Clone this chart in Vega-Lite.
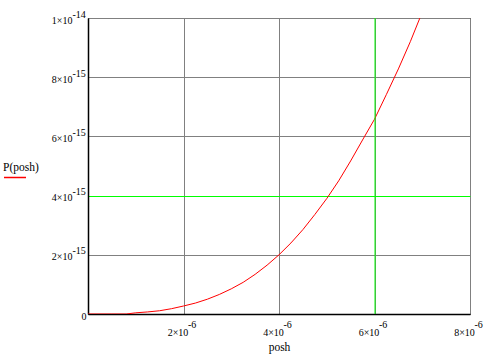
{
  "$schema": "https://vega.github.io/schema/vega-lite/v6.json",
  "width": 382,
  "height": 296,
  "autosize": {"type": "none"},
  "padding": {"left": 88, "top": 18, "right": 33, "bottom": 48},
  "background": "white",
  "config": {
    "view": {"stroke": "black", "strokeWidth": 1},
    "font": "Liberation Serif",
    "axis": {
      "labelFont": "Liberation Serif",
      "titleFont": "Liberation Serif",
      "labelColor": "black",
      "titleColor": "black",
      "labelFontSize": 10,
      "titleFontSize": 11.5,
      "titleFontWeight": "normal",
      "domainColor": "black",
      "domainWidth": 1.5,
      "ticks": false,
      "gridOpacity": 1,
      "gridWidth": 1,
      "labelBaseline": "alphabetic"
    }
  },
  "resolve": {"axis": {"x": "independent", "y": "independent"}},
  "datasets": {
    "curve": [
      {"posh": 0, "P": 0, "series": "P(posh)"},
      {"posh": 0.5e-6, "P": 0, "series": "P(posh)"},
      {"posh": 0.8e-6, "P": 0, "series": "P(posh)"},
      {"posh": 1.0e-6, "P": 0.04e-15, "series": "P(posh)"},
      {"posh": 1.25e-6, "P": 0.07e-15, "series": "P(posh)"},
      {"posh": 1.5e-6, "P": 0.11e-15, "series": "P(posh)"},
      {"posh": 1.75e-6, "P": 0.18e-15, "series": "P(posh)"},
      {"posh": 2.0e-6, "P": 0.27e-15, "series": "P(posh)"},
      {"posh": 2.25e-6, "P": 0.37e-15, "series": "P(posh)"},
      {"posh": 2.5e-6, "P": 0.50e-15, "series": "P(posh)"},
      {"posh": 2.75e-6, "P": 0.66e-15, "series": "P(posh)"},
      {"posh": 3.0e-6, "P": 0.85e-15, "series": "P(posh)"},
      {"posh": 3.25e-6, "P": 1.07e-15, "series": "P(posh)"},
      {"posh": 3.5e-6, "P": 1.34e-15, "series": "P(posh)"},
      {"posh": 3.75e-6, "P": 1.65e-15, "series": "P(posh)"},
      {"posh": 4.0e-6, "P": 2.00e-15, "series": "P(posh)"},
      {"posh": 4.25e-6, "P": 2.40e-15, "series": "P(posh)"},
      {"posh": 4.5e-6, "P": 2.85e-15, "series": "P(posh)"},
      {"posh": 4.75e-6, "P": 3.36e-15, "series": "P(posh)"},
      {"posh": 5.0e-6, "P": 3.90e-15, "series": "P(posh)"},
      {"posh": 5.25e-6, "P": 4.50e-15, "series": "P(posh)"},
      {"posh": 5.5e-6, "P": 5.17e-15, "series": "P(posh)"},
      {"posh": 5.75e-6, "P": 5.88e-15, "series": "P(posh)"},
      {"posh": 6.0e-6, "P": 6.58e-15, "series": "P(posh)"},
      {"posh": 6.25e-6, "P": 7.42e-15, "series": "P(posh)"},
      {"posh": 6.5e-6, "P": 8.28e-15, "series": "P(posh)"},
      {"posh": 6.75e-6, "P": 9.20e-15, "series": "P(posh)"},
      {"posh": 7.0e-6, "P": 10.2e-15, "series": "P(posh)"}
    ],
    "xmarker": [{"posh": 6e-6}]
  },
  "data": {"name": "curve"},
  "layer": [
    {
      "mark": {"type": "line", "strokeWidth": 1, "clip": true},
      "encoding": {
        "x": {
          "field": "posh",
          "type": "quantitative",
          "scale": {"domain": [0, 8e-6], "nice": false},
          "axis": {
            "orient": "bottom",
            "title": "posh",
            "titleFont": "Liberation Serif",
            "titleFontWeight": "normal",
            "titleFontSize": 11.5,
            "titleBaseline": "alphabetic",
            "titleY": 36,
            "values": [2e-6, 4e-6, 6e-6, 8e-6],
            "labelExpr": "round(datum.value*1e6) + '×10'",
            "labelAlign": "center",
            "labelOffset": -6,
            "labelPadding": 21,
            "grid": true,
            "gridColor": "#808080"
          }
        },
        "y": {
          "field": "P",
          "type": "quantitative",
          "scale": {"domain": [0, 1e-14], "nice": false},
          "axis": {
            "orient": "left",
            "title": null,
            "grid": true,
            "values": [0, 2e-15, 4e-15, 6e-15, 8e-15, 1e-14],
            "labelExpr": "datum.value == 0 ? '0' : (datum.value > 9e-15 ? '1×10' : round(datum.value*1e15) + '×10')",
            "labelAlign": "right",
            "labelOffset": 5,
            "labelPadding": {"condition": {"test": "datum.value == 0", "value": 2}, "value": 16},
            "gridColor": {"condition": {"test": "abs(datum.value - 4e-15) < 1e-17", "value": "#00ff00"}, "value": "#808080"}
          }
        },
        "color": {
          "field": "series",
          "type": "nominal",
          "scale": {"range": ["#ff0000"]},
          "legend": {
            "orient": "none",
            "legendX": -85,
            "legendY": 144,
            "title": "P(posh)",
            "titleFont": "Liberation Serif",
            "titleFontSize": 11.5,
            "titleFontWeight": "normal",
            "titleColor": "black",
            "titlePadding": -8,
            "symbolType": "stroke",
            "symbolSize": 484,
            "symbolStrokeWidth": 1.5,
            "labelExpr": "''",
            "labelFontSize": 1
          }
        }
      }
    },
    {
      "mark": {"type": "line", "strokeOpacity": 0},
      "encoding": {
        "x": {
          "field": "posh",
          "type": "quantitative",
          "scale": {"domain": [0, 8e-6], "nice": false},
          "axis": {
            "orient": "bottom",
            "title": null,
            "grid": false,
            "domain": false,
            "values": [2e-6, 4e-6, 6e-6, 8e-6],
            "labelExpr": "'-6'",
            "labelAlign": "left",
            "labelOffset": 4,
            "labelPadding": 13
          }
        },
        "y": {
          "field": "P",
          "type": "quantitative",
          "scale": {"domain": [0, 1e-14], "nice": false},
          "axis": {
            "orient": "left",
            "title": null,
            "grid": false,
            "domain": false,
            "values": [0, 2e-15, 4e-15, 6e-15, 8e-15, 1e-14],
            "labelExpr": "datum.value == 0 ? '' : (datum.value > 9e-15 ? '-14' : '-15')",
            "labelAlign": "left",
            "labelOffset": -1,
            "labelPadding": 16
          }
        }
      }
    },
    {
      "data": {"name": "xmarker"},
      "mark": {"type": "rule", "color": "#00ff00", "strokeWidth": 1, "xOffset": 0.5},
      "encoding": {
        "x": {
          "field": "posh",
          "type": "quantitative",
          "scale": {"domain": [0, 8e-6], "nice": false},
          "axis": null
        }
      }
    }
  ]
}
